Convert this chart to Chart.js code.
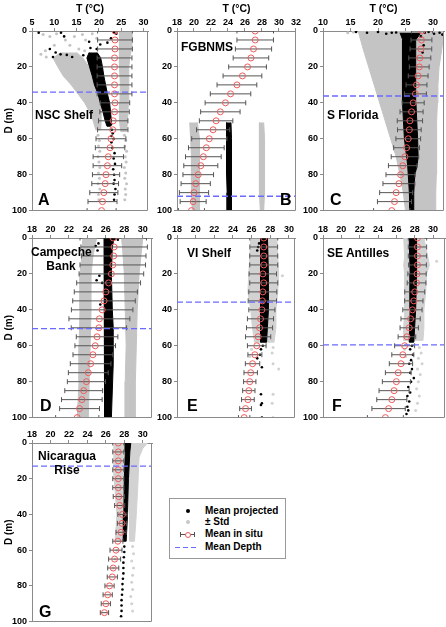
<!DOCTYPE html>
<html><head><meta charset="utf-8">
<script src="https://cdn.jsdelivr.net/npm/chart.js@4.4.1/dist/chart.umd.min.js"></script>
<style>
html,body{margin:0;padding:0;background:#fff;}
body{width:446px;height:627px;position:relative;overflow:hidden;font-family:"Liberation Sans",Arial,Helvetica,sans-serif;}
canvas{position:absolute;}
.lbl{position:absolute;font-weight:bold;font-size:12px;line-height:14px;color:#000;white-space:nowrap;}
.lbl.c{text-align:center;}
.let{position:absolute;font-weight:bold;font-size:16px;line-height:16px;color:#000;}
#legend{position:absolute;left:169px;top:498px;width:115px;height:59px;border:1px solid #999;background:#fff;}
.lt{position:absolute;left:35px;font-weight:bold;font-size:10px;line-height:12px;color:#000;white-space:nowrap;}
.mk{position:absolute;}
</style></head><body>
<script>
// ---------- DATA ----------
const situDepth = [0,5,10,15,20,25,30,35,40,45,50,55,60,65,70,75,80,85,90,95,100];
const meanDepth = [34, 92, 36.2, 50.5, 35.7, 59.5, 13];
const panelNames = ['NSC Shelf','FGBNMS','S Florida','Campeche Bank','VI Shelf','SE Antilles','Nicaragua Rise'];
const panelLetters = ['A','B','C','D','E','F','G'];

// mean in situ temperature and its std, per panel
const situA = [23.6,23.6,23.6,23.5,23.5,23.5,23.5,23.5,23.6,23.5,23.2,23.1,22.7,22.5,22.1,21.9,21.6,21.4,21.1,20.8,20.6];
const stdA  = [3.9,3.9,3.9,3.9,3.9,3.9,3.9,3.9,3.3,3.3,3.3,3.4,3.35,3.3,3.4,3.2,3.05,3.0,3.15,3.25,3.25];
const situB = [27.2,27.2,27.0,26.7,26.3,25.7,25.05,24.3,23.7,23.1,22.6,22.25,21.8,21.45,21.1,20.8,20.5,20.2,20.0,19.9,19.7];
const stdB  = [2.15,2.15,2.13,2.09,2.22,2.28,2.34,2.38,2.39,2.32,1.97,1.95,2.07,2.1,2.1,2.0,1.8,1.72,1.72,1.53,1.53];
const situC = [28.0,27.9,27.8,27.6,27.5,27.3,27.0,26.8,26.4,26.1,25.8,25.7,25.5,25.2,24.9,24.5,24.1,23.8,23.3,23.0,22.5];
const stdC  = [1.9,1.9,1.97,2.0,1.8,1.8,1.9,2.0,2.0,2.1,2.3,2.15,2.25,2.35,2.5,2.6,2.65,2.9,3.0,3.1,3.3];
const situD = [26.8,26.9,26.85,26.75,26.6,26.3,26.0,25.8,25.6,25.3,25.25,25.05,24.85,24.6,24.35,24.1,23.9,23.6,23.4,23.15,22.9];
const stdD  = [3.6,3.6,3.5,3.55,3.5,3.46,3.42,3.39,3.33,3.3,3.0,2.25,2.2,2.16,2.2,2.16,2.07,2.05,2.2,2.16,2.34];
const situE = [27.3,27.3,27.3,27.3,27.2,27.3,27.2,27.15,27.1,26.95,26.85,26.7,26.55,26.35,26.1,25.9,25.8,25.7,25.6,25.35,25.2];
const stdE  = [1.5,1.49,1.5,1.5,1.47,1.5,1.5,1.52,1.4,1.4,1.4,1.35,1.0,0.75,0.77,0.72,0.66,0.66,0.68,0.63,0.61];
const situF = [28.3,28.3,28.3,28.3,28.25,28.2,28.0,27.9,27.75,27.55,27.4,27.15,26.9,26.7,26.5,26.2,26.0,25.75,25.5,25.15,24.8];
const stdF  = [1.0,1.0,1.0,0.97,1.0,1.02,1.09,1.0,1.05,1.05,1.0,0.96,1.09,1.2,1.27,1.4,1.53,1.64,1.64,1.82,1.96];
const situG = [27.35,27.35,27.35,27.35,27.35,27.35,27.4,27.5,27.8,27.75,27.65,27.3,27.1,26.95,26.8,26.7,26.4,26.2,26.0,25.85];
const stdG  = [0.6,0.6,0.6,0.6,0.6,0.6,0.6,0.55,0.5,0.5,0.55,0.55,0.65,0.65,0.6,0.55,0.5,0.5,0.5,0.45];

// dense clouds of projected values: [depth, lowT, highT]
const grayA = [
  [[12,11.5,15],[15,9.7,16.4],[20,10.8,17.8],[25,12,18.6],[30,13.8,19.3],[35,15.3,20],[40,16.8,20.4],[45,17.9,20.5],[50,18.7,20.5],[55,19.3,20.4]],
  [[0,24.6,27.4],[5,24.7,27.5],[10,24.5,27.3],[15,24.5,26.9],[20,24.7,26.7],[30,24.8,26.7],[40,24.7,26.6],[50,24.6,26.4],[56,24.9,26.2]]
];
const blackA = [[[12,17.8,19.6],[15,17.3,20.4],[20,17.9,20.8],[25,18.5,21.1],[30,19.0,21.5],[35,19.8,21.9],[40,20.3,22.4],[45,20.9,22.6],[50,21.4,22.8],[53,21.8,22.6]]];
const grayB = [
  [[51,19.5,20.4],[60,19.6,20.6],[70,19.7,20.7],[80,19.7,20.7],[90,19.7,20.6],[100,19.8,20.6]],
  [[51,27.7,28.2],[60,27.7,28.3],[70,27.7,28.3],[80,27.7,28.3],[90,27.7,28.3],[100,27.8,28.2]]
];
const blackB = [[[51,23.85,24.35],[60,23.8,24.4],[70,23.85,24.4],[80,23.85,24.4],[90,23.9,24.45],[100,23.9,24.45]]];
const grayC = [[[0,16.4,32],[10,17.3,31.6],[20,18.3,31.1],[30,19.3,30.9],[40,20.3,30.8],[50,21.3,30.7],[60,22.3,30.7],[70,23.3,30.6],[80,24.0,30.6],[90,24.6,30.5],[100,25.0,30.5]]];
const blackC = [[[1,24.0,27.8],[5,24.5,26.9],[20,24.4,26.8],[40,24.5,26.9],[60,24.8,27.2],[70,25.2,27.3],[75,25.4,27.1],[80,25.5,26.7],[90,25.7,26.5],[100,25.8,26.4]]];
const grayD = [
  [[0,23.5,25.0],[10,23.4,24.6],[20,23.2,24.4],[40,23.2,24.4],[60,23.1,24.3],[80,23.1,24.2],[100,22.9,24.1]],
  [[0,27.7,30.0],[5,27.8,29.9],[20,28.0,29.6],[40,28.1,29.4],[60,28.2,29.3],[80,28.1,29.2],[100,28.1,29.2]]
];
const blackD = [[[0,25.8,26.9],[5,25.9,26.7],[20,25.8,26.6],[40,25.8,26.7],[50,25.9,26.8],[70,25.9,26.8],[100,25.9,26.6]]];
const grayE = [[[0,25.9,28.7],[10,25.8,28.8],[20,25.7,28.9],[30,25.6,28.8],[40,25.9,28.6],[50,26.1,28.6],[58,26.3,28.4]]];
const blackE = [[[0,27.0,27.7],[20,26.9,27.8],[40,27.0,27.8],[58,27.0,27.6]]];
const grayF = [[[0,26.8,29.0],[10,26.9,29.4],[15,26.8,29.6],[20,26.9,29.3],[30,26.9,29.2],[40,26.9,29.0],[50,26.8,29.0],[57,26.8,28.9]]];
const blackF = [[[0,27.4,28.2],[20,27.5,28.2],[40,27.5,28.1],[58,27.4,27.9]]];
const grayG = [
  [[0,28.5,30.5],[3,28.6,30.0],[8,28.6,29.6],[20,28.6,29.5],[40,28.6,29.3],[55,28.6,29.1]],
  [[0,26.9,27.9],[20,26.9,27.9],[40,27.2,27.9],[55,27.0,27.8]]
];
const blackG = [[[0,28.1,28.7],[5,28.1,28.6],[20,28.0,28.45],[40,27.95,28.35],[55,27.9,28.2]]];

// sparse projected points: [T, depth]
const blackDotsA = [[6.5,1],[11.5,1],[12.2,3],[23.4,1],[23.9,1.5],[22.7,4],[21.9,6.5],[20.3,7.5],[17.8,6],[18.1,9.5],[19.5,10],[9,10],[10.3,12],[11.4,13],[12.8,13.3],[9.7,14.5],[14,14.5],[16.5,13.5],[22.7,52],[22.9,55],[23.1,57],[22.8,58.5],[23.3,60],[22.8,62],[23.0,65],[23.5,68],[23.3,71],[23.6,74],[23.2,77],[23.4,80],[23.5,83],[23.3,85],[23.7,88],[23.5,91],[23.4,94]];
const grayDotsA = [[7.5,2],[9,3],[10.5,1.5],[12.5,5],[13.5,8],[14.5,3],[15.5,10],[16.3,2],[7,13],[8.2,14.5],[16.8,11],[18.5,1.5],[19.5,4],[17,5],[10,8],[8,11],[19.8,58],[20.1,61],[19.9,64],[20.2,67],[19.8,70],[20,73],[20.2,76],[19.9,79],[20.1,82],[19.8,85],[20.2,88],[19.9,91],[20.0,94],[25.7,58],[26.0,61],[25.8,64],[26.2,67],[25.9,70],[26.1,73],[25.7,76],[26.0,79],[25.8,82],[26.2,85],[25.9,88],[26.0,91],[25.8,94]];
const blackDotsB = [];
const grayDotsB = [];
const blackDotsC = [[16,0.5],[18,1],[20,0.5],[21.5,1.5],[22.5,1],[23.3,0.8],[28.5,1],[29.2,0.5],[30.2,1.5],[31.2,1],[31.7,2],[27.8,3],[28.3,8],[28.1,12]];
const grayDotsC = [[14.5,1],[15.5,0.5]];
const blackDotsD = [[25.2,3],[24.9,4.5],[25.1,7],[25.3,21],[25.0,23.5],[25.6,25],[25.4,37],[27.0,0.5],[27.3,1]];
const grayDotsD = [];
const blackDotsE = [[26.7,5],[26.6,7],[26.8,3],[27.2,60],[27.0,62],[26.9,65],[26.6,67],[27.1,72],[27.0,87],[27.1,92],[27.0,93],[27.1,100]];
const grayDotsE = [[29.3,21],[28.3,61],[28.2,64],[28.3,70],[28.9,73],[28.3,87],[28.2,92],[28.3,100],[26.0,62],[25.8,66]];
const blackDotsF = [[27.7,60],[27.5,62],[27.8,65],[27.6,68],[27.4,70],[27.7,73],[27.5,75],[27.9,78],[27.6,80],[27.3,83],[27.5,86],[27.2,88],[27.4,91],[27.2,94],[27.3,96],[27.1,98]];
const grayDotsF = [[30.4,13],[28.5,61],[28.7,64],[28.4,67],[28.8,70],[28.3,73],[28.6,76],[28.4,80],[28.2,84],[28.5,88],[28.3,92],[28.1,96],[26.9,62],[27.0,66],[26.8,70]];
const blackDotsG = [[28.0,58],[28.0,61],[27.95,64],[27.9,67],[27.9,70],[27.9,73],[27.85,76],[27.8,79],[27.8,82],[27.75,85],[27.7,88],[27.7,91],[27.7,94],[27.65,97]];
const grayDotsG = [[28.9,58],[29.0,62],[28.8,66],[29.0,70],[28.9,74],[28.8,78],[28.9,82],[28.7,86],[28.8,90],[28.9,94],[27.2,60],[27.0,65],[26.8,70]];

// ---------- LAYOUT / STYLE ----------
const FONT = "'Liberation Sans', Arial, Helvetica, sans-serif";
Chart.defaults.font.family = FONT;
const AXIS = '#8a8a8a';
const GRAY = '#c4c4c4';
const GRAY_LIGHT = '#d2d2d2';
const RED = '#f05a5a';
const BLUE = '#6a6aff';

const panels = [
  {box:[32,31,148,211], yw:32, xh:31, xmin:5, xmax:31, step:5, xTitle:true, yTitle:true, shade:GRAY, situ:situA, std:stdA, gray:grayA, black:blackA, gd:grayDotsA, bd:blackDotsA},
  {box:[177,31,299,211], yw:27, xh:31, xmin:18, xmax:32, step:2, xTitle:true, yTitle:false, shade:GRAY, situ:situB, std:stdB, gray:grayB, black:blackB, gd:grayDotsB, bd:blackDotsB},
  {box:[323,31,444,211], yw:24, xh:31, xmin:10, xmax:32, step:5, xTitle:true, yTitle:false, shade:GRAY, situ:situC, std:stdC, gray:grayC, black:blackC, gd:grayDotsC, bd:blackDotsC},
  {box:[32,238,152,418], yw:32, xh:22, xmin:18, xmax:31, step:2, xTitle:false, yTitle:true, shade:GRAY, situ:situD, std:stdD, gray:grayD, black:blackD, gd:grayDotsD, bd:blackDotsD},
  {box:[177,238,295,418], yw:27, xh:22, xmin:18, xmax:30.65, step:2, xTitle:false, yTitle:false, shade:GRAY_LIGHT, situ:situE, std:stdE, gray:grayE, black:blackE, gd:grayDotsE, bd:blackDotsE},
  {box:[323,238,445,418], yw:24, xh:22, xmin:18, xmax:31.3, step:2, xTitle:false, yTitle:false, shade:GRAY_LIGHT, situ:situF, std:stdF, gray:grayF, black:blackF, gd:grayDotsF, bd:blackDotsF},
  {box:[32,443,152,622], yw:32, xh:18, xmin:18, xmax:31, step:2, xTitle:false, yTitle:true, shade:GRAY_LIGHT, situ:situG, std:stdG, gray:grayG, black:blackG, gd:grayDotsG, bd:blackDotsG}
];

function bandPts(rows){
  const pts = rows.map(r => ({x:r[1], y:r[0]}));
  for (let i = rows.length - 1; i >= 0; i--) pts.push({x:rows[i][2], y:rows[i][0]});
  return pts;
}
function errPts(depths, mean, std){
  const pts = [];
  for (let i = 0; i < mean.length; i++) {
    pts.push({x:mean[i]-std[i], y:depths[i]}, {x:mean[i]+std[i], y:depths[i]}, {x:null, y:null});
  }
  return pts;
}

const framePlugin = {
  id:'frame',
  afterDraw(chart){
    const {ctx, chartArea:a} = chart;
    ctx.save();
    ctx.strokeStyle = AXIS; ctx.lineWidth = 1;
    const r = Math.round(a.right) - 0.5, b = Math.round(a.bottom) - 0.5;
    ctx.beginPath();
    ctx.moveTo(Math.round(a.left), b); ctx.lineTo(r, b); ctx.lineTo(r, Math.round(a.top));
    ctx.stroke();
    ctx.restore();
  }
};

panels.forEach((p, idx) => {
  const [L, T, R, B] = p.box;
  const padR = 2, padB = 7;
  const W = (R - L) + p.yw + padR, H = (B - T) + p.xh + padB;
  const cv = document.createElement('canvas');
  cv.width = W; cv.height = H;
  cv.style.left = (L - p.yw) + 'px'; cv.style.top = (T - p.xh) + 'px';
  cv.style.width = W + 'px'; cv.style.height = H + 'px';
  document.body.appendChild(cv);

  const depths = situDepth.slice(0, p.situ.length);
  const ds = [];
  ds.push({data:[{x:p.xmin, y:meanDepth[idx]}, {x:p.xmax, y:meanDepth[idx]}], showLine:true, borderColor:BLUE, borderWidth:1.3, borderDash:[6,3], pointRadius:0, order:0});
  ds.push({data:depths.map((d,i) => ({x:p.situ[i], y:d})), pointStyle:'circle', pointRadius:3, pointBorderWidth:1, pointBorderColor:RED, pointBackgroundColor:'rgba(0,0,0,0)', order:1});
  ds.push({data:errPts(depths, p.situ, p.std), showLine:true, spanGaps:false, borderColor:'#555', borderWidth:1, pointStyle:'line', pointRotation:90, pointRadius:2.5, pointBorderColor:'#555', pointBorderWidth:1, order:2});
  ds.push({data:p.bd.map(v => ({x:v[0], y:v[1]})), pointRadius:1.3, pointBorderWidth:0, pointBackgroundColor:'#000', order:3});
  p.black.forEach(rows => ds.push({data:bandPts(rows), showLine:true, fill:'shape', backgroundColor:'#000', borderColor:'#000', borderWidth:1, pointRadius:0, order:4}));
  ds.push({data:p.gd.map(v => ({x:v[0], y:v[1]})), pointRadius:1.5, pointBorderWidth:0, pointBackgroundColor:p.shade, order:5});
  p.gray.forEach(rows => ds.push({data:bandPts(rows), showLine:true, fill:'shape', backgroundColor:p.shade, borderColor:p.shade, borderWidth:1, pointRadius:0, order:6}));

  const step = p.step;
  new Chart(cv, {
    type:'scatter',
    data:{datasets:ds},
    options:{
      responsive:false, animation:false, devicePixelRatio:1, events:[],
      layout:{padding:{left:0, top:0, right:padR, bottom:padB}, autoPadding:false},
      plugins:{legend:{display:false}, tooltip:{enabled:false}},
      scales:{
        x:{
          type:'linear', position:'top', min:p.xmin, max:p.xmax,
          afterFit(s){ s.height = p.xh; },
          afterBuildTicks(s){ s.ticks = s.ticks.filter(t => Math.abs(t.value/step - Math.round(t.value/step)) < 1e-6); },
          ticks:{stepSize:step, includeBounds:false, color:'#000', font:{size:9, weight:'bold'}, padding:0, maxRotation:0, autoSkip:false},
          grid:{drawOnChartArea:false, drawTicks:true, tickLength:3, color:AXIS},
          border:{display:true, color:AXIS, width:1},
          title:{display:p.xTitle, text:'T (°C)', color:'#000', font:{size:10.5, weight:'bold'}, padding:{top:3, bottom:0}}
        },
        y:{
          type:'linear', position:'left', reverse:true, min:0, max:100,
          afterFit(s){ s.width = p.yw; },
          ticks:{stepSize:20, color:'#000', font:{size:9, weight:'bold'}, padding:2},
          grid:{drawOnChartArea:false, drawTicks:true, tickLength:3, color:AXIS},
          border:{display:true, color:AXIS, width:1},
          title:{display:p.yTitle, text:'D (m)', color:'#000', font:{size:10, weight:'bold'}, padding:{top:3, bottom:0}}
        }
      }
    },
    plugins:[framePlugin]
  });
});

// panel names and letters
const nameLayout = [
  {left:35, top:108}, {left:181, top:39.5}, {left:327, top:108},
  {left:31, top:246, width:60, lines:2}, {left:187, top:246}, {left:327, top:246},
  {left:36, top:450, width:62, lines:2}
];
const letterLayout = [
  {left:38, top:191.5}, {left:280, top:191.5}, {left:330, top:191.5},
  {left:40, top:397.5}, {left:187, top:397.5}, {left:332, top:397.5},
  {left:39, top:603.5}
];
panelNames.forEach((n, i) => {
  const d = document.createElement('div');
  const L = nameLayout[i];
  d.className = 'lbl' + (L.lines ? ' c' : '');
  d.style.left = L.left + 'px'; d.style.top = L.top + 'px';
  if (L.lines) {
    d.style.width = L.width + 'px'; d.style.lineHeight = '13.5px';
    const parts = n.split(' ');
    d.innerHTML = parts[0] + '<br>' + parts.slice(1).join(' ');
  } else d.textContent = n;
  document.body.appendChild(d);
  const l = document.createElement('div');
  l.className = 'let';
  l.style.left = letterLayout[i].left + 'px'; l.style.top = letterLayout[i].top + 'px';
  l.textContent = panelLetters[i];
  document.body.appendChild(l);
});

// legend
const legendItems = ['Mean projected', '± Std', 'Mean in situ', 'Mean Depth'];
const lg = document.createElement('div'); lg.id = 'legend';
const rowY = [11.5, 23, 35, 47.5];
legendItems.forEach((t, i) => {
  const tx = document.createElement('div'); tx.className = 'lt';
  tx.style.top = (rowY[i] - 6) + 'px'; tx.textContent = t; lg.appendChild(tx);
});
function mk(css){ const m = document.createElement('div'); m.className = 'mk'; m.style.cssText = css; lg.appendChild(m); }
mk('left:15.5px;top:' + (rowY[0]-2) + 'px;width:4px;height:4px;border-radius:50%;background:#000;');
mk('left:15.5px;top:' + (rowY[1]-2) + 'px;width:4px;height:4px;border-radius:50%;background:#c8c8c8;');
mk('left:10px;top:' + (rowY[2]) + 'px;width:15px;height:1px;background:#555;');
mk('left:10px;top:' + (rowY[2]-2) + 'px;width:1px;height:5px;background:#555;');
mk('left:24px;top:' + (rowY[2]-2) + 'px;width:1px;height:5px;background:#555;');
mk('left:14.5px;top:' + (rowY[2]-2.5) + 'px;width:4px;height:4px;border:1px solid ' + RED + ';border-radius:50%;background:#fff;');
mk('left:5px;top:' + (rowY[3]) + 'px;width:24px;height:1.3px;background:repeating-linear-gradient(to right,' + BLUE + ' 0 5px,transparent 5px 8px);');
document.body.appendChild(lg);
</script>
</body></html>
